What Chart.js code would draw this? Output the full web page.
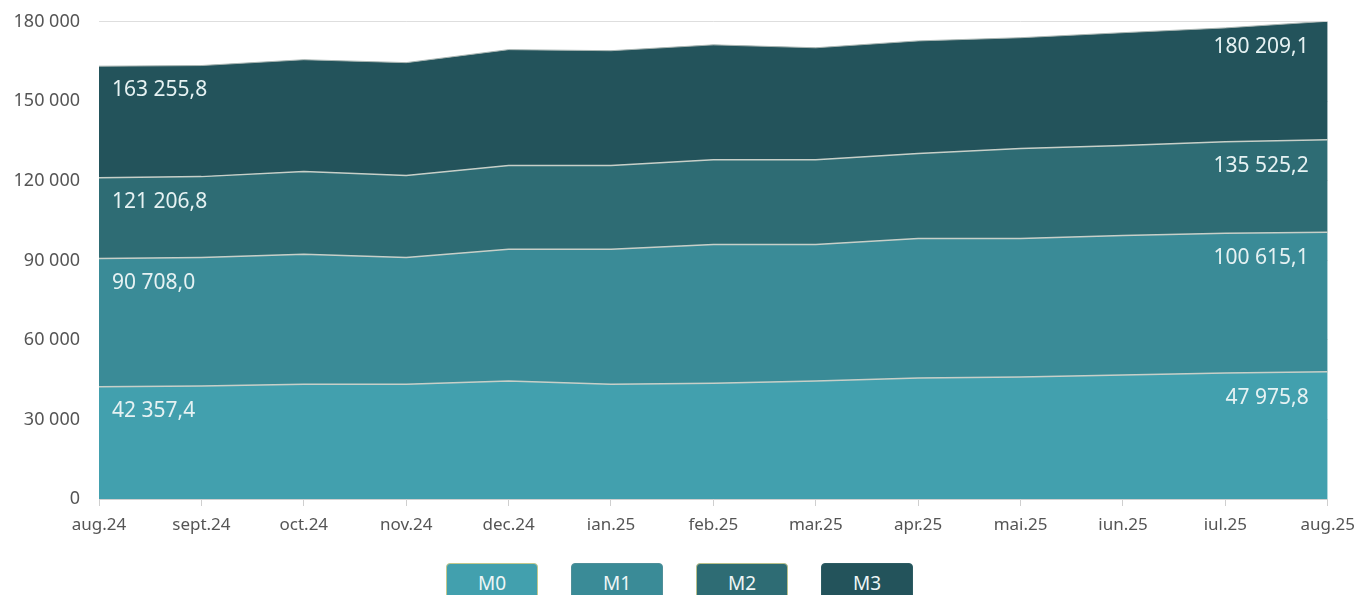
<!DOCTYPE html>
<html>
<head>
<meta charset="utf-8">
<script src="https://cdn.jsdelivr.net/npm/chart.js@4.4.1/dist/chart.umd.min.js"></script>
<style>
  body { margin: 0; background: #fff; font-family: "Noto Sans", sans-serif; }
  #wrap { position: relative; width: 1358px; height: 595px; overflow: hidden; }
  #chart { position: absolute; left: 0; top: -8px; }
  #legend { position: absolute; top: 563px; left: 446px; display: flex; gap: 33px; }
  #legend div { width: 92px; height: 40px; border-radius: 4px; box-sizing: border-box;
    color: #eef6f6; font-size: 19px; text-align: center; line-height: 38px; }
</style>
</head>
<body>
<div id="wrap">
  <canvas id="chart" width="1364" height="563"></canvas>
  <div id="legend"></div>
</div>
<script>
const months = ['aug.24', 'sept.24', 'oct.24', 'nov.24', 'dec.24', 'ian.25', 'feb.25',
  'mar.25', 'apr.25', 'mai.25', 'iun.25', 'iul.25', 'aug.25'];

const m0 = [42357.4, 42600, 43300, 43300, 44500, 43300, 43700, 44500, 45600, 46000, 46800, 47500, 47975.8];
const m1 = [90708.0, 91100, 92300, 91100, 94200, 94200, 96000, 96000, 98300, 98300, 99400, 100200, 100615.1];
const m2 = [121206.8, 121600, 123500, 122000, 125800, 125800, 128000, 128000, 130300, 132200, 133300, 134800, 135525.2];
const m3 = [163255.8, 163500, 165700, 164600, 169500, 169100, 171300, 170200, 172800, 174000, 175900, 177700, 180209.1];

const names = ['M0', 'M1', 'M2', 'M3'];
const colors = ['#42a0ae', '#3a8b97', '#2e6c74', '#23535b'];
const legendBorders = ['#c3c88c', '#4f8f99', '#b9c08a', '#2d5c63'];

// space as thousands separator, comma decimal
const fmt = (v, dec) => {
  const parts = v.toFixed(dec).split('.');
  parts[0] = parts[0].replace(/\B(?=(\d{3})+(?!\d))/g, ' ');
  return parts.join(',');
};

const endLabels = {
  id: 'endLabels',
  afterDatasetsDraw(chart) {
    const ctx = chart.ctx;
    ctx.save();
    ctx.font = '21px "Noto Sans"';
    ctx.fillStyle = '#e6f2f3';
    ctx.textBaseline = 'middle';
    chart.data.datasets.forEach((ds, i) => {
      const pts = chart.getDatasetMeta(i).data;
      const first = pts[0], last = pts[pts.length - 1];
      ctx.textAlign = 'left';
      ctx.fillText(fmt(ds.data[0], 1), first.x + 13, first.y + 24);
      ctx.textAlign = 'right';
      ctx.fillText(fmt(ds.data[ds.data.length - 1], 1), last.x - 19, last.y + 26);
    });
    ctx.restore();
  }
};

const series = [m0, m1, m2, m3];

new Chart(document.getElementById('chart'), {
  type: 'line',
  data: {
    labels: months,
    datasets: series.map((d, i) => ({
      label: names[i],
      data: d,
      backgroundColor: colors[i],
      borderColor: i === 3 ? '#a9b5b2' : '#c7cfc8',
      borderWidth: i === 3 ? 1 : 1.5,
      fill: i === 0 ? 'origin' : '-1',
      pointRadius: 0,
      tension: 0
    }))
  },
  options: {
    responsive: false,
    animation: false,
    layout: { padding: { top: 13, right: 25, left: 0, bottom: 0 } },
    plugins: { legend: { display: false }, tooltip: { enabled: false } },
    scales: {
      x: {
        offset: false,
        grid: { drawOnChartArea: false, tickLength: 7, color: '#cfcfcf' },
        border: { color: '#cfcfcf' },
        ticks: { color: '#555', font: { family: 'Noto Sans', size: 17 }, padding: 9, maxRotation: 0, autoSkip: false },
        afterFit: (scale) => { scale.height = 56; }
      },
      y: {
        min: 0,
        max: 180000,
        grid: { color: '#dedede', drawTicks: false },
        border: { display: false },
        ticks: {
          stepSize: 30000,
          color: '#555',
          padding: 19,
          font: { family: 'Noto Sans', size: 18 },
          callback: (v) => fmt(v, 0)
        },
        afterFit: (scale) => { scale.width = 99; }
      }
    }
  },
  plugins: [endLabels]
});

const legend = document.getElementById('legend');
names.forEach((n, i) => {
  const box = document.createElement('div');
  box.textContent = n;
  box.style.background = colors[i];
  box.style.border = '1.5px solid ' + legendBorders[i];
  legend.appendChild(box);
});
</script>
</body>
</html>
